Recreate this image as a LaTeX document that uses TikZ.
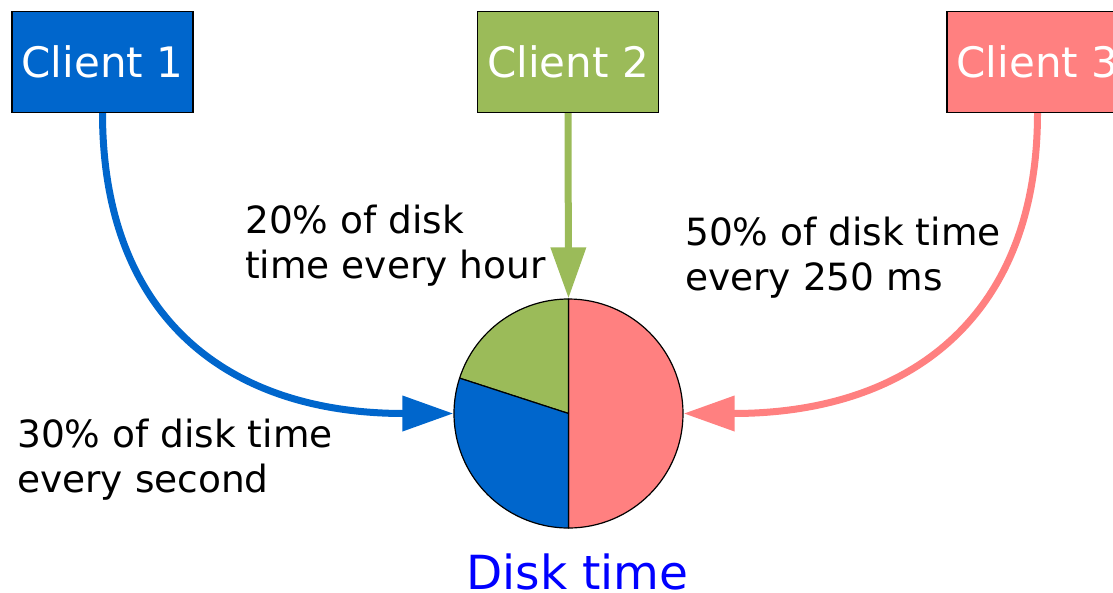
\documentclass[tikz,border=0pt]{standalone}
\usepackage{fontspec}
\setmainfont{DejaVu Sans}
\usetikzlibrary{arrows.meta}
\definecolor{cblue}{HTML}{0066CC}
\definecolor{cgreen}{HTML}{9BBB59}
\definecolor{cred}{HTML}{FF8080}
\begin{document}
\begin{tikzpicture}[x=1pt,y=-1pt,
  client/.style={draw=black, line width=1.2pt, minimum width=181pt, minimum height=101pt,
    inner sep=0pt, text=white, font=\fontsize{42}{50}\selectfont},
  flow/.style={line width=7pt, -{Triangle[length=51pt,width=34pt]}},
  note/.style={anchor=base west, align=left, inner sep=0pt, font=\fontsize{37.5}{45}\selectfont},
  slice/.style={draw=black, line width=1.2pt, line join=round}]
\useasboundingbox (0,0) rectangle (1113,592);
\clip (0,0) rectangle (1113,592);

% clients
\node[client, fill=cblue]  (c1) at (102.5,62) {Client 1};
\node[client, fill=cgreen] (c2) at (568,62)   {Client 2};
\node[client, fill=cred]   (c3) at (1037.5,62) {Client 3};

% disk time pie
\node[circle, minimum size=229pt, inner sep=0pt, line width=1.2pt, outer sep=0.6pt] (pie) at (568.5,413.5) {};
\filldraw[slice, fill=cred]   (pie.center) -- ++(-90:114.5) arc[start angle=-90, end angle=90, radius=114.5] -- cycle;
\filldraw[slice, fill=cgreen] (pie.center) -- ++(-90:114.5) arc[start angle=-90, end angle=-162, radius=114.5] -- cycle;
\filldraw[slice, fill=cblue]  (pie.center) -- ++(-162:114.5) arc[start angle=-162, end angle=-270, radius=114.5] -- cycle;

% requests
\draw[flow, cblue]  (c1.south) .. controls +(0,200) and +(-230,0) .. (pie.west);
\draw[flow, cgreen] (c2.south) -- (pie.north);
\draw[flow, cred]   (c3.south) .. controls +(0,200) and +(230,0) .. (pie.east);

% labels (anchored on the baseline of their last line)
\node[note] (n1) at (17,492)  {30\% of disk time\\every second};
\node[note] (n2) at (245,278) {20\% of disk\\time every hour};
\node[note] (n3) at (685,290) {50\% of disk time\\every 250 ms};
\node[anchor=base, inner sep=0pt, text=blue, font=\fontsize{47}{56}\selectfont] (disk) at (577.5,589) {Disk time};
\end{tikzpicture}
\end{document}
